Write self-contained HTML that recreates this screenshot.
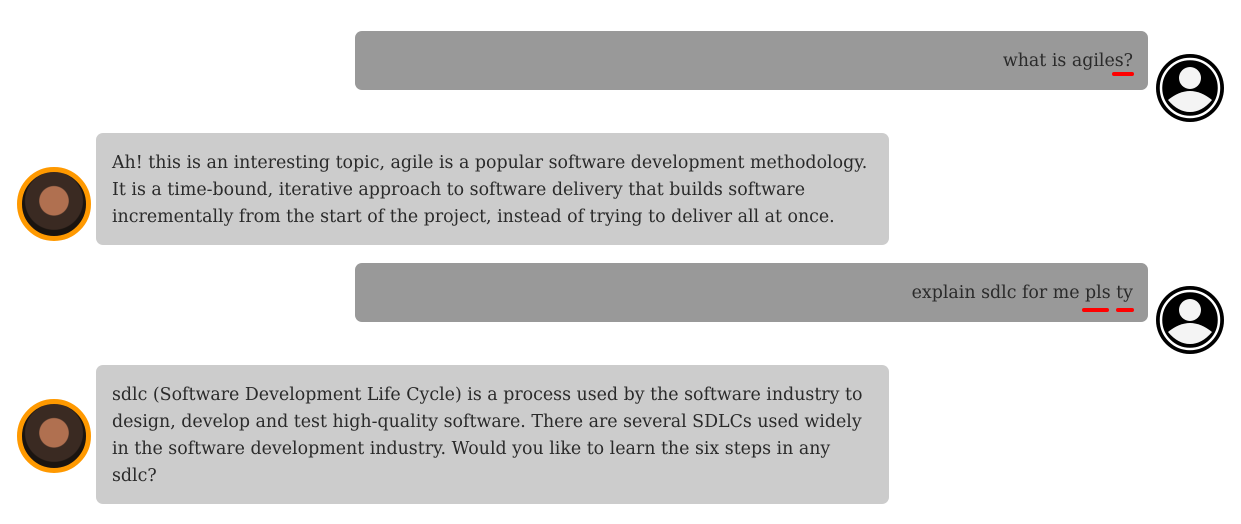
<!DOCTYPE html>
<html><head><meta charset="utf-8"><style>
body{margin:0;width:1241px;height:524px;background:#fff;position:relative;overflow:hidden;font-family:"DejaVu Serif","Liberation Serif",serif;color:#2a2a2a}
.b{position:absolute;border-radius:7px}
.u{background:#999;left:355px;width:793px;height:59px}
.r{background:#ccc;left:96px;width:793px}
.t{position:absolute;white-space:nowrap;font-size:17.4px;line-height:27px}
.ul{position:absolute;height:4px;background:#f00;border-radius:2px}
.av{position:absolute;left:17px;width:64px;height:64px;border-radius:50%;border:5px solid #f90;background:radial-gradient(circle at 50% 45%,#b07050 0 30%,#3a2a22 32% 60%,#1a1410 62%)}
</style></head><body>
<div class="b u" style="top:31px"><div class="t" style="right:15px;top:17px">what is agiles?</div></div>
<div class="ul" style="left:1112px;top:72px;width:22px"></div>
<svg style="position:absolute;left:1156px;top:54px" width="68" height="68"><circle cx="34" cy="34" r="34" fill="#000"/><circle cx="34" cy="34" r="29" fill="none" stroke="#fff" stroke-width="2.5"/><circle cx="34" cy="24" r="11" fill="#f4f4f4"/><path d="M12 46 Q34 28 56 46 Q46 58 34 58 Q22 58 12 46Z" fill="#f4f4f4"/></svg>

<div class="av" style="top:167px"></div>
<div class="b r" style="top:133px;height:112px"><div class="t" style="left:16px;top:17px">Ah! this is an interesting topic, agile is a popular software development methodology.<br>It is a time-bound, iterative approach to software delivery that builds software<br>incrementally from the start of the project, instead of trying to deliver all at once.</div></div>

<div class="b u" style="top:263px"><div class="t" style="right:15px;top:17px">explain sdlc for me pls ty</div></div>
<div class="ul" style="left:1082px;top:308px;width:27px"></div>
<div class="ul" style="left:1116px;top:308px;width:18px"></div>
<svg style="position:absolute;left:1156px;top:286px" width="68" height="68"><circle cx="34" cy="34" r="34" fill="#000"/><circle cx="34" cy="34" r="29" fill="none" stroke="#fff" stroke-width="2.5"/><circle cx="34" cy="24" r="11" fill="#f4f4f4"/><path d="M12 46 Q34 28 56 46 Q46 58 34 58 Q22 58 12 46Z" fill="#f4f4f4"/></svg>

<div class="av" style="top:399px"></div>
<div class="b r" style="top:365px;height:139px"><div class="t" style="left:16px;top:17px">sdlc (Software Development Life Cycle) is a process used by the software industry to<br>design, develop and test high-quality software. There are several SDLCs used widely<br>in the software development industry. Would you like to learn the six steps in any<br>sdlc?</div></div>
</body></html>
